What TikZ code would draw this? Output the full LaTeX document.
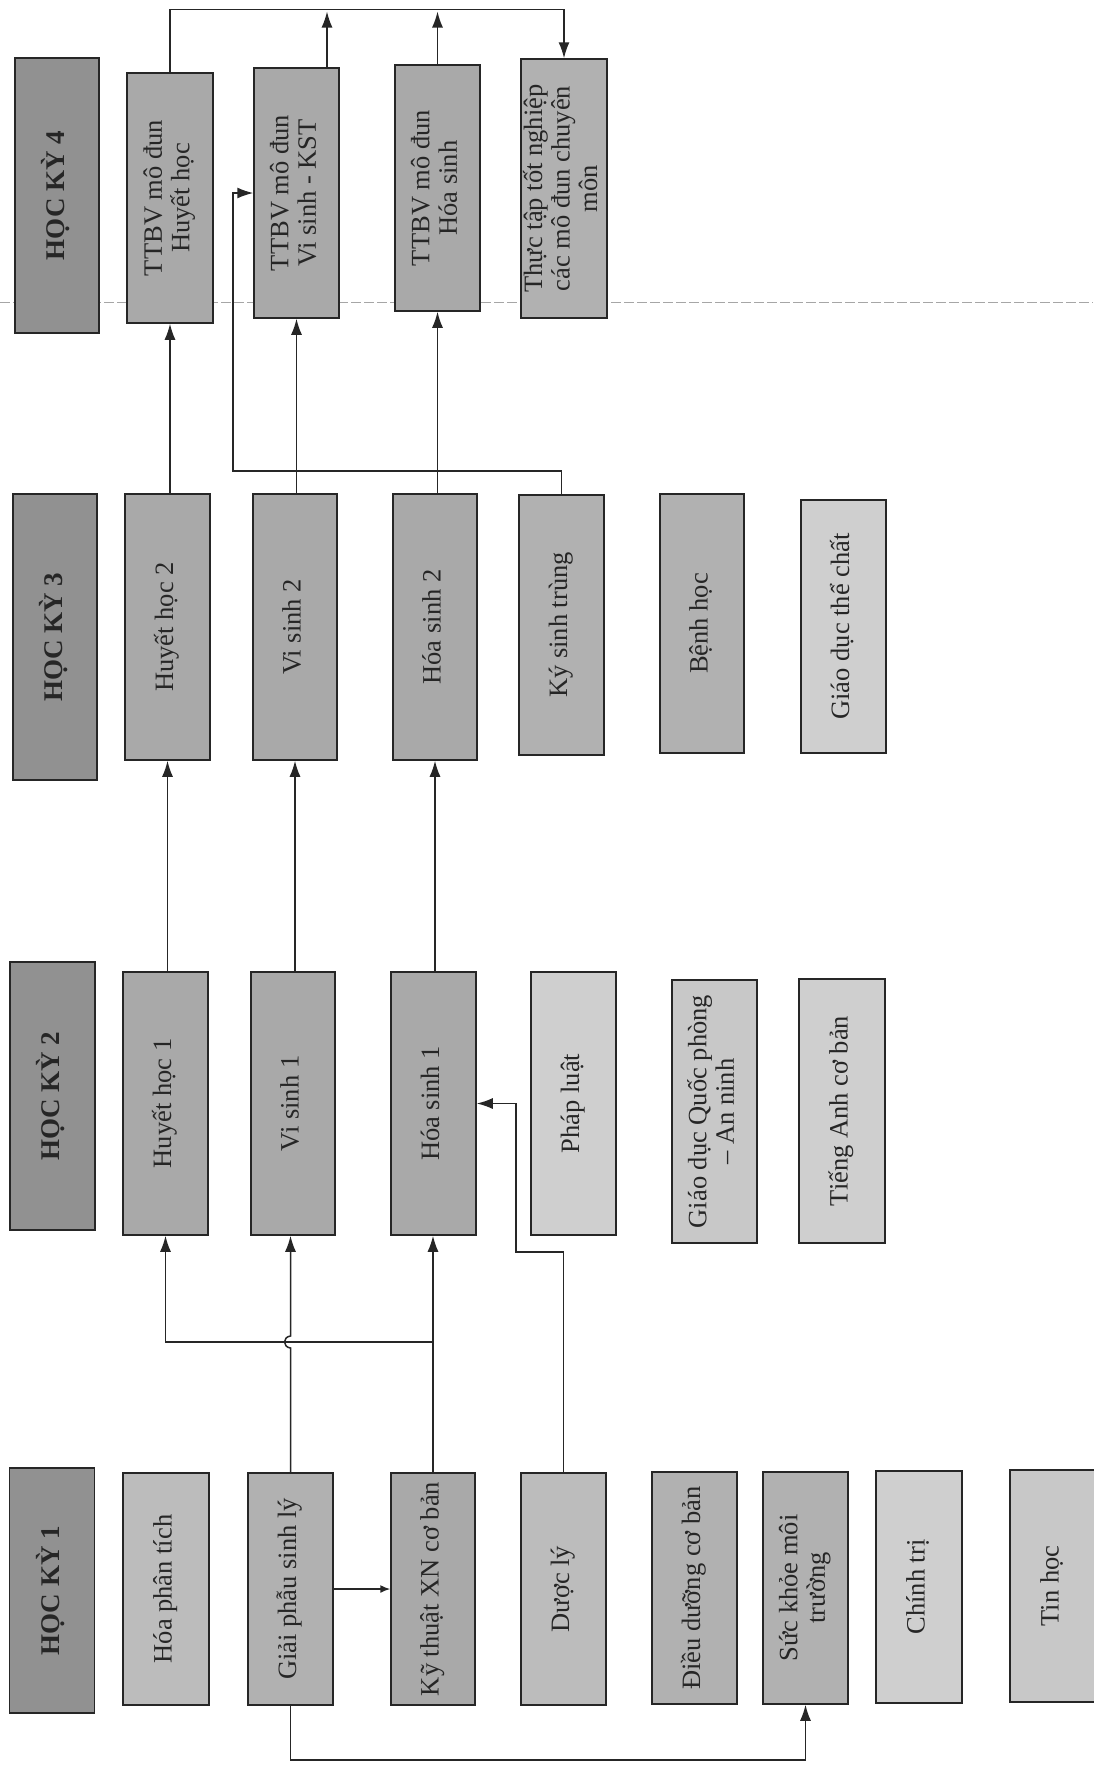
\documentclass[tikz,border=0pt]{standalone}
\usepackage{fontspec}
\setmainfont{Liberation Serif}
\usetikzlibrary{arrows.meta}
\definecolor{hdrgray}{HTML}{919191}
\definecolor{midgray}{HTML}{A9A9A9}
\definecolor{kstgray}{HTML}{B1B1B1}
\definecolor{lgray}{HTML}{BCBCBC}
\definecolor{pale}{HTML}{CFCFCF}
\definecolor{pale2}{HTML}{C8C8C8}
\newcommand\vtxt[1]{\rotatebox{90}{\begin{tabular}{@{}c@{}}#1\end{tabular}}}
\begin{document}
\begin{tikzpicture}[x=1pt,y=-1pt,
  box/.style={draw=black!85, line width=1.5pt, inner sep=0pt, text=black!85,
              font=\fontsize{26.5}{27.5}\selectfont},
  hdr/.style={box, fill=hdrgray, font=\fontsize{27}{28}\selectfont\bfseries},
  conn/.style={line width=1.5pt, draw=black!85},
  arr/.style={conn, -{Latex[length=16pt,width=11pt]}},
  arrsmall/.style={conn, -{Latex[length=10pt,width=8pt]}},
  fold/.style={line width=1pt, draw=black!35, dash pattern=on 10pt off 3pt}
]
\useasboundingbox[fill=white] (0,0) rectangle (1093,1765);
\draw[fold] (0,302) -- (1093,302);

% headers
\node[hdr, minimum width=84pt, minimum height=275pt] (hk4) at (57,195.5) {\vtxt{HỌC KỲ 4}};
\node[hdr, minimum width=84pt, minimum height=286pt] (hk3) at (55,637) {\vtxt{HỌC KỲ 3}};
\node[hdr, minimum width=85pt, minimum height=268pt] (hk2) at (52.5,1096) {\vtxt{HỌC KỲ 2}};
\node[hdr, minimum width=85pt, minimum height=245pt] (hk1) at (52,1590.5) {\vtxt{HỌC KỲ 1}};

% semester 4
\node[box, fill=midgray, minimum width=86pt, minimum height=250pt] (ttbvhl) at (170,198) {\vtxt{TTBV mô đun\\Huyết học}};
\node[box, fill=midgray, minimum width=85pt, minimum height=250pt] (ttbvvs) at (296.5,193) {\vtxt{TTBV mô đun\\Vi sinh - KST}};
\node[box, fill=midgray, minimum width=85pt, minimum height=246pt] (ttbvhs) at (437.5,188) {\vtxt{TTBV mô đun\\Hóa sinh}};
\node[box, fill=kstgray, minimum width=86pt, minimum height=259pt] (thuctap) at (564,188.5) {\vtxt{Thực tập tốt nghiệp\\các mô đun chuyên\\môn}};

% semester 3
\node[box, fill=midgray, minimum width=85pt, minimum height=266pt] (hl2) at (167.5,627) {\vtxt{Huyết học 2}};
\node[box, fill=midgray, minimum width=84pt, minimum height=266pt] (vs2) at (295,627) {\vtxt{Vi sinh 2}};
\node[box, fill=midgray, minimum width=84pt, minimum height=266pt] (hs2) at (435,627) {\vtxt{Hóa sinh 2}};
\node[box, fill=kstgray, minimum width=85pt, minimum height=260pt] (kst) at (561.5,625) {\vtxt{Ký sinh trùng}};
\node[box, fill=kstgray, minimum width=84pt, minimum height=259pt] (benh) at (702,623.5) {\vtxt{Bệnh học}};
\node[box, fill=pale, minimum width=85pt, minimum height=253pt] (gdtc) at (843.5,626.5) {\vtxt{Giáo dục thể chất}};

% semester 2
\node[box, fill=midgray, minimum width=85pt, minimum height=263pt] (hl1) at (165.5,1103.5) {\vtxt{Huyết học 1}};
\node[box, fill=midgray, minimum width=84pt, minimum height=263pt] (vs1) at (293,1103.5) {\vtxt{Vi sinh 1}};
\node[box, fill=midgray, minimum width=85pt, minimum height=263pt] (hs1) at (433.5,1103.5) {\vtxt{Hóa sinh 1}};
\node[box, fill=pale, minimum width=85pt, minimum height=263pt] (pl) at (573.5,1103.5) {\vtxt{Pháp luật}};
\node[box, fill=pale2, minimum width=85pt, minimum height=263pt] (gdqp) at (714.5,1111.5) {\vtxt{Giáo dục Quốc phòng\\– An ninh}};
\node[box, fill=pale, minimum width=86pt, minimum height=264pt] (ta) at (842,1111) {\vtxt{Tiếng Anh cơ bản}};

% semester 1
\node[box, fill=lgray, minimum width=86pt, minimum height=232pt] (hpt) at (166,1589) {\vtxt{Hóa phân tích}};
\node[box, fill=kstgray, minimum width=85pt, minimum height=232pt] (gp) at (290.5,1589) {\vtxt{Giải phẫu sinh lý}};
\node[box, fill=midgray, minimum width=84pt, minimum height=232pt] (kt) at (433,1589) {\vtxt{Kỹ thuật XN cơ bản}};
\node[box, fill=lgray, minimum width=85pt, minimum height=232pt] (dl) at (563.5,1589) {\vtxt{Dược lý}};
\node[box, fill=kstgray, minimum width=85pt, minimum height=232pt] (dd) at (694.5,1588) {\vtxt{Điều dưỡng cơ bản}};
\node[box, fill=kstgray, minimum width=85pt, minimum height=232pt] (sk) at (805.5,1588) {\vtxt{Sức khỏe môi\\trường}};
\node[box, fill=pale, minimum width=86pt, minimum height=232pt] (ct) at (919,1587) {\vtxt{Chính trị}};
\node[box, fill=pale2, minimum width=86pt, minimum height=232pt] (tin) at (1053,1586) {\vtxt{Tin học}};

% helper coordinates
\coordinate (top) at (0,9.5);
\coordinate (vsx) at (327,0);
\coordinate (k1) at (233,471);
\coordinate (d1) at (516,1252);
\coordinate (j1) at (433,1342);
\coordinate (hopA) at (0,1348);
\coordinate (hopB) at (0,1336);
\coordinate (g1) at (0,1760);

% semester 4 top connections
\draw[arr] (ttbvhl.north) -- (ttbvhl.north |- top) -| (thuctap.north);
\draw[arr, shorten >=2pt] (vsx |- ttbvvs.north) -- (vsx |- top);
\draw[arr, shorten >=2pt] (ttbvhs.north) -- (ttbvhs.north |- top);

% semester 3 -> 4
\draw[arr] (hl2.north) -- (hl2.north -| ttbvhl.south) -- (ttbvhl.south);
\draw[arr] (vs2.north) -- (vs2.north -| ttbvvs.south) -- (ttbvvs.south);
\draw[arr] (hs2.north) -- (hs2.north -| ttbvhs.south) -- (ttbvhs.south);
\draw[arr] (kst.north) -- (kst.north |- k1) -- (k1) |- (ttbvvs.west);

% semester 2 -> 3
\draw[arr] (hl1.north) -- (hl1.north -| hl2.south) -- (hl2.south);
\draw[arr] (vs1.north) -- (vs1.north -| vs2.south) -- (vs2.south);
\draw[arr] (hs1.north) -- (hs1.north -| hs2.south) -- (hs2.south);

% semester 1 -> 2
\draw[arr] (kt.north) -- (kt.north |- hs1.south);
\draw[arr] (j1) -| (hl1.south);
\draw[arr] (gp.north) -- (gp.north |- hopA) .. controls +(-8,-1) and +(-8,1) .. (gp.north |- hopB) -- (gp.north |- vs1.south);
\draw[arr] (dl.north) -- (dl.north |- d1) -- (d1) |- (hs1.east);

% within semester 1
\draw[arrsmall] (gp.east) -- (kt.west);
\draw[arr] (gp.south) -- (gp.south |- g1) -| (sk.south);
\end{tikzpicture}
\end{document}
